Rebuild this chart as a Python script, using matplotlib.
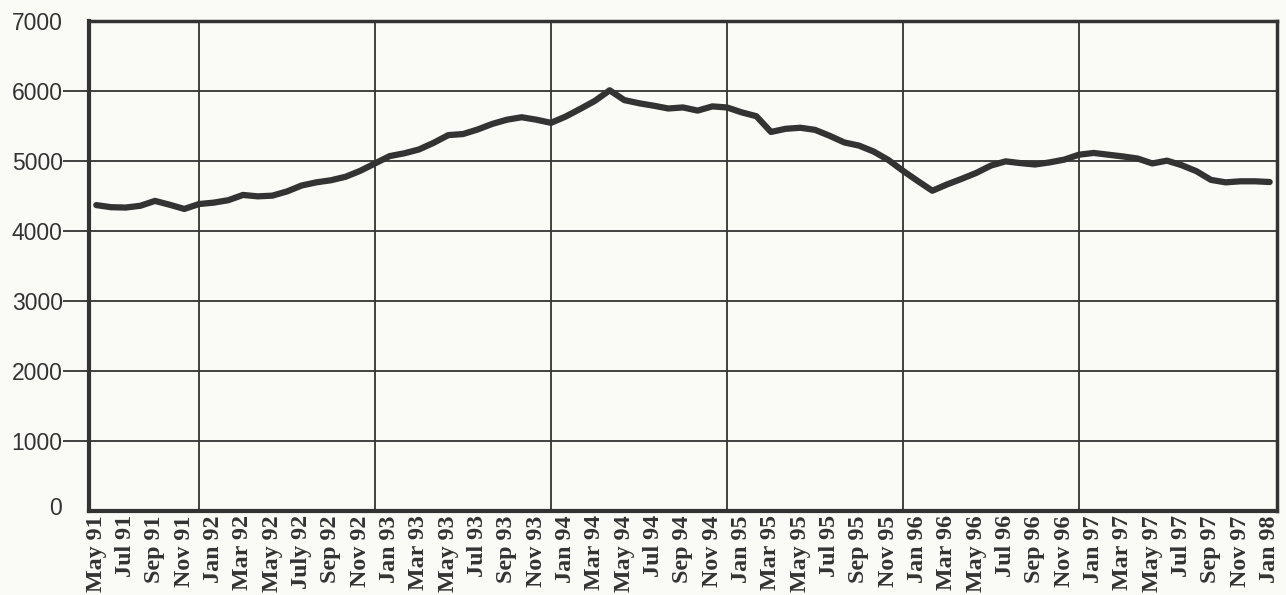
import matplotlib
matplotlib.use("Agg")
import matplotlib.pyplot as plt
from matplotlib.transforms import ScaledTranslation
import numpy as np

# Monthly series, May 1991 - Jan 1998
months = ["May 91", "Jun 91", "Jul 91", "Aug 91", "Sep 91", "Oct 91", "Nov 91", "Dec 91",
          "Jan 92", "Feb 92", "Mar 92", "Apr 92", "May 92", "Jun 92", "July 92", "Aug 92",
          "Sep 92", "Oct 92", "Nov 92", "Dec 92",
          "Jan 93", "Feb 93", "Mar 93", "Apr 93", "May 93", "Jun 93", "Jul 93", "Aug 93",
          "Sep 93", "Oct 93", "Nov 93", "Dec 93",
          "Jan 94", "Feb 94", "Mar 94", "Apr 94", "May 94", "Jun 94", "Jul 94", "Aug 94",
          "Sep 94", "Oct 94", "Nov 94", "Dec 94",
          "Jan 95", "Feb 95", "Mar 95", "Apr 95", "May 95", "Jun 95", "Jul 95", "Aug 95",
          "Sep 95", "Oct 95", "Nov 95", "Dec 95",
          "Jan 96", "Feb 96", "Mar 96", "Apr 96", "May 96", "Jun 96", "Jul 96", "Aug 96",
          "Sep 96", "Oct 96", "Nov 96", "Dec 96",
          "Jan 97", "Feb 97", "Mar 97", "Apr 97", "May 97", "Jun 97", "Jul 97", "Aug 97",
          "Sep 97", "Oct 97", "Nov 97", "Dec 97",
          "Jan 98"]

values = [4370, 4340, 4335, 4360, 4430, 4375, 4315, 4385,
          4405, 4440, 4515, 4495, 4505, 4565, 4650, 4695, 4725, 4775, 4860, 4965,
          5070, 5110, 5165, 5260, 5370, 5385, 5450, 5530, 5590, 5625, 5590, 5545,
          5635, 5745, 5860, 6010, 5870, 5825, 5790, 5750, 5765, 5720, 5780, 5765,
          5695, 5640, 5415, 5460, 5475, 5445, 5360, 5265, 5220, 5135, 5015, 4860,
          4715, 4575, 4665, 4745, 4830, 4935, 4995, 4970, 4950, 4980, 5020, 5090,
          5115, 5090, 5065, 5035, 4965, 5005, 4940, 4855, 4730, 4695, 4710, 4710,
          4700]

y_ticks = [0, 1000, 2000, 3000, 4000, 5000, 6000, 7000]
x_label_step = 2
v_grid_months = ["Dec 91", "Dec 92", "Dec 93", "Dec 94", "Dec 95", "Dec 96"]

ink = "#333333"
bg = "#fafaf6"

fig = plt.figure(figsize=(12.86, 5.95), dpi=100, facecolor=bg)
ax = fig.add_axes([0.0692, 0.1412, 0.9238, 0.8235])
ax.set_facecolor(bg)

x = np.arange(len(values))
ax.set_xlim(-0.5, len(values) - 0.5)
ax.set_ylim(0, 7000)

# grid
for yv in y_ticks[1:-1]:
    ax.axhline(yv, color=ink, lw=1.3, zorder=1)
for m in v_grid_months:
    ax.axvline(months.index(m), color=ink, lw=1.3, zorder=1)

ax.plot(x, values, color=ink, lw=4.5, solid_capstyle="round",
        solid_joinstyle="round", zorder=3)

for s in ax.spines.values():
    s.set_color(ink)
ax.spines["left"].set_linewidth(3.0)
ax.spines["bottom"].set_linewidth(3.0)
ax.spines["top"].set_linewidth(2.5)
ax.spines["right"].set_linewidth(2.5)

# y axis
ax.set_yticks(y_ticks)
ax.set_yticklabels([str(v) for v in y_ticks], family="Liberation Sans",
                   fontsize=16.5, color=ink)
ax.tick_params(axis="y", length=19, width=1.3, color=ink, pad=0)
yt = ax.yaxis.get_major_ticks()
yt[0].tick1line.set_visible(False)
yt[-1].tick1line.set_visible(False)
lab0 = yt[0].label1
lab0.set_transform(lab0.get_transform() + ScaledTranslation(-0.01, 0.05, fig.dpi_scale_trans))

# x axis
ax.set_xticks(x[::x_label_step])
ax.set_xticklabels(months[::x_label_step], rotation=90, family="Liberation Serif",
                   fontweight="bold", fontsize=17.3, color=ink)
ax.tick_params(axis="x", length=0, pad=3)

fig.savefig("out.png", dpi=100, facecolor=bg)
